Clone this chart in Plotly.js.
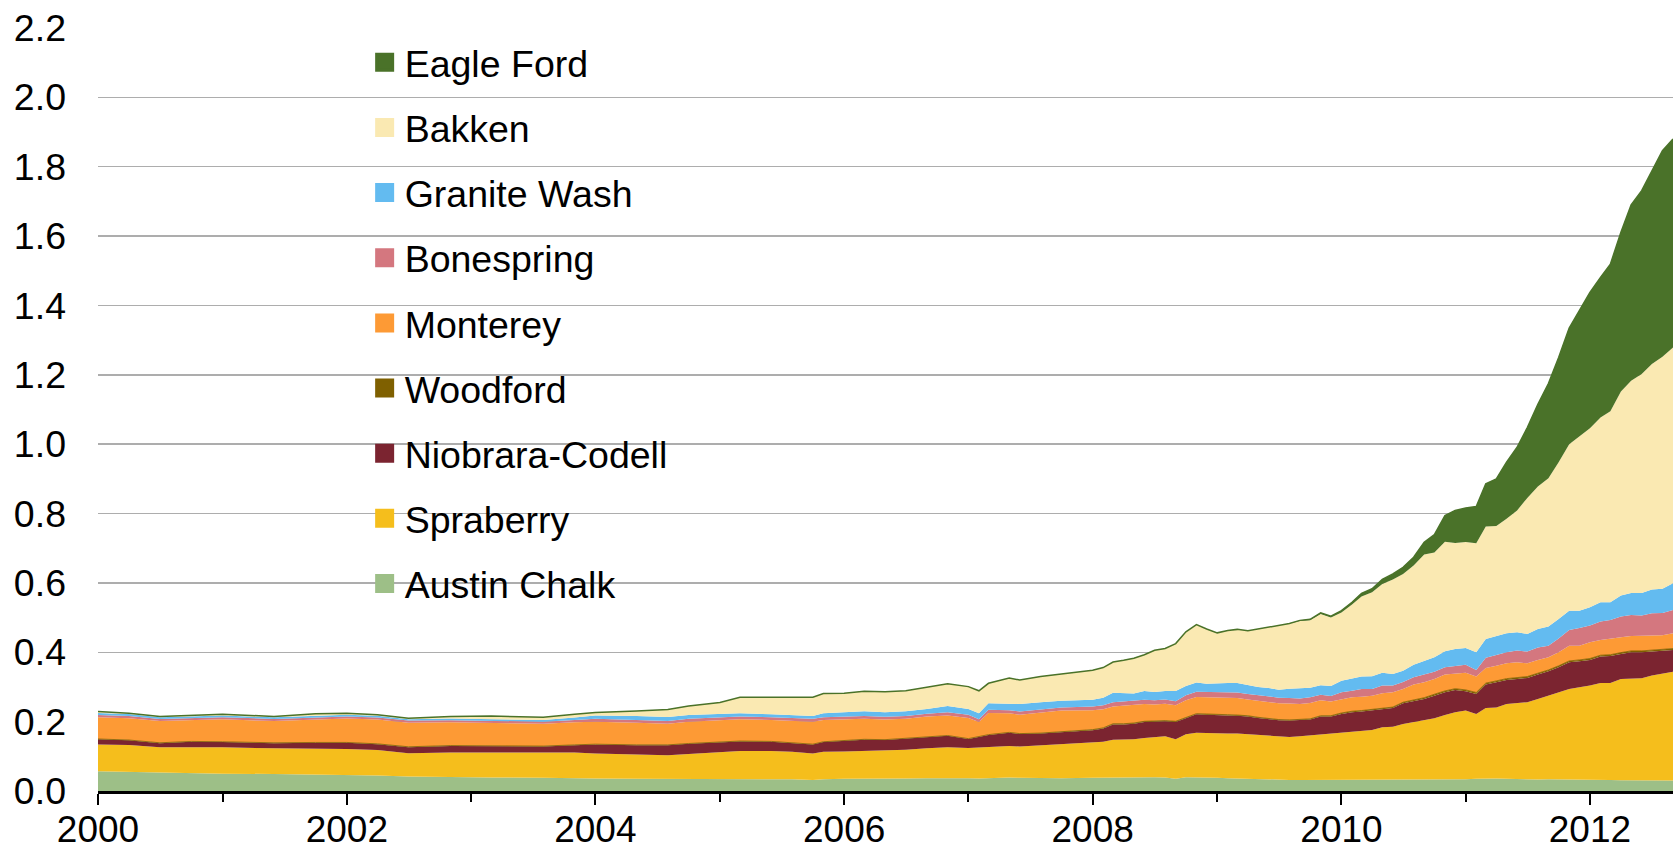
<!DOCTYPE html>
<html><head><meta charset="utf-8">
<script src="https://cdn.plot.ly/plotly-3.0.1.min.js"></script>
<style>html,body{margin:0;padding:0;background:#fff;} #chart{width:1673px;height:851px;}</style>
</head><body><div id="chart"></div>
<script>
// Sample dates (non-uniform: coarser in the flat early years, monthly from 2008)
const dates = [
 '2000-01-01','2000-04-01','2000-07-01','2000-10-01','2001-01-01','2001-06-01','2001-10-01',
 '2002-01-01','2002-04-01','2002-07-01','2002-11-01','2003-03-01','2003-08-01','2003-11-01',
 '2004-01-01','2004-05-01','2004-08-01','2004-10-01','2005-01-01','2005-03-01','2005-06-01',
 '2005-08-01','2005-10-01','2005-11-01',
 '2006-01-01','2006-03-01','2006-05-01','2006-07-01','2006-09-01','2006-11-01','2007-01-01',
 '2007-02-01','2007-03-01','2007-05-01','2007-06-01','2007-08-01','2007-10-01',
 '2008-01-01','2008-02-01','2008-03-01','2008-04-01','2008-05-01','2008-06-01','2008-07-01','2008-08-01','2008-09-01','2008-10-01','2008-11-01','2008-12-01',
 '2009-01-01','2009-02-01','2009-03-01','2009-04-01','2009-05-01','2009-06-01','2009-07-01','2009-08-01','2009-09-01','2009-10-01','2009-11-01','2009-12-01',
 '2010-01-01','2010-02-01','2010-03-01','2010-04-01','2010-05-01','2010-06-01','2010-07-01','2010-08-01','2010-09-01','2010-10-01','2010-11-01','2010-12-01',
 '2011-01-01','2011-02-01','2011-03-01','2011-04-01','2011-05-01','2011-06-01','2011-07-01','2011-08-01','2011-09-01','2011-10-01','2011-11-01','2011-12-01',
 '2012-01-01','2012-02-01','2012-03-01','2012-04-01','2012-05-01','2012-06-01','2012-07-01','2012-08-01','2012-09-01'
];

const austinChalk = [
 .057,.055,.053,.051,.050,.049,.048,.047,.045,.042,.040,.039,.038,.038,
 .036,.035,.035,.035,.035,.035,.035,.034,.032,.034,
 .035,.036,.036,.036,.037,.038,.037,.036,.037,.039,.038,.037,.037,
 .0385,.039,.040,.040,.040,.040,.040,.039,.0355,.040,.040,.039,
 .038,.037,.036,.035,.0345,.034,.033,.032,.032,.032,.032,.032,
 .032,.032,.032,.032,.032,.032,.032,.032,.032,.033,.033,.033,
 .034,.035,.0365,.036,.035,.034,.033,.033,.034,.034,.034,.033,
 .033,.033,.032,.031,.031,.031,.030,.030,.030
];
const spraberry = [
 .077,.0775,.0735,.076,.076,.074,.074,.074,.073,.067,.071,.072,.071,.073,
 .072,.069,.068,.072,.076,.080,.080,.079,.076,.079,
 .079,.080,.080,.083,.086,.088,.087,.090,.091,.091,.090,.094,.097,
 .1015,.103,.108,.108,.109,.113,.116,.119,.1135,.1235,.128,.129,
 .129,.129,.1295,.1285,.126,.124,.123,.124,.126,.1285,.1315,.135,
 .137,.140,.142,.144,.152,.1536,.161,.166,.171,.1766,.186,.194,
 .198,.187,.2025,.205,.216,.219,.223,.232,.241,.2506,.260,.266,
 .271,.2785,.2795,.292,.294,.294,.3027,.309,.314
];
const niobraraCodell = [
 .015,.0135,.0115,.015,.015,.015,.017,.018,.017,.0175,.019,.019,.0195,.021,
 .026,.028,.029,.029,.028,.028,.027,.026,.026,.028,
 .031,.032,.031,.032,.034,.033,.026,.031,.0335,.038,.0365,.035,.036,
 .035,.038,.044,.044,.045,.046,.045,.043,.050,.047,.053,.052,
 .051,.052,.0515,.0515,.050,.049,.048,.047,.046,.0455,.0515,.048,
 .053,.055,.055,.056,.0525,.0534,.060,.0607,.062,.0654,.0656,.064,
 .0555,.058,.068,.0725,.069,.070,.070,.0706,.070,.0724,.077,.075,
 .074,.076,.0775,.072,.075,.075,.0693,.064,.0627
];
const woodford = [
 .001,.001,.001,.001,.001,.001,.001,.001,.001,.001,.001,.001,.001,.001,
 .001,.001,.001,.001,.001,.001,.001,.001,.001,.001,
 .001,.001,.001,.001,.001,.001,.001,.001,.001,.001,.001,.001,.001,
 .002,.002,.002,.002,.002,.002,.002,.002,.002,.002,.002,.002,
 .002,.002,.002,.002,.002,.002,.002,.002,.002,.002,.002,.002,
 .003,.003,.003,.003,.003,.003,.003,.004,.004,.004,.004,.004,
 .004,.004,.004,.004,.004,.004,.004,.004,.004,.004,.004,.004,
 .004,.004,.004,.004,.004,.004,.004,.004,.004
];
const monterey = [
 .063,.063,.0625,.062,.065,.0625,.066,.069,.070,.0695,.067,.065,.0645,.065,
 .065,.064,.061,.063,.064,.063,.062,.062,.065,.063,
 .061,.0595,.058,.0565,.0565,.058,.0595,.041,.0625,.055,.0545,.060,.061,
 .0555,.054,.050,.052,.051,.050,.0465,.0485,.046,.0495,.048,.048,
 .050,.049,.049,.047,.0475,.047,.047,.047,.045,.046,.0445,.041,
 .040,.040,.040,.040,.0425,.043,.038,.0443,.0445,.044,.047,.044,
 .0495,.046,.044,.044,.044,.044,.038,.0384,.0366,.039,.044,.041,
 .047,.0441,.0455,.044,.043,.043,.041,.042,.0443
];
const bonespring = [
 .006,.006,.006,.006,.006,.006,.006,.006,.006,.006,.006,.006,.006,.007,
 .008,.008,.008,.008,.008,.008,.008,.008,.008,.008,
 .008,.008,.008,.008,.008,.009,.009,.008,.009,.009,.009,.009,.009,
 .011,.011,.012,.012,.012,.012,.012,.012,.012,.014,.015,.015,
 .016,.016,.016,.016,.016,.016,.016,.016,.016,.016,.016,.016,
 .0196,.019,.022,.019,.022,.019,.020,.021,.0225,.021,.0214,.0225,
 .023,.019,.029,.0305,.032,.034,.034,.036,.0334,.040,.045,.051,
 .048,.0534,.0545,.060,.0605,.059,.0655,.064,.067
];
const graniteWash = [
 .006,.006,.005,.005,.005,.005,.005,.005,.005,.004,.005,.005,.005,.007,
 .010,.011,.0115,.011,.009,.009,.008,.008,.0085,.011,
 .012,.0135,.013,.0135,.014,.018,.017,.017,.019,.020,.022,.020,.0195,
 .0195,.022,.027,.023,.022,.0255,.024,.025,.0295,.027,.0265,.0245,
 .0255,.0265,.0275,.025,.024,.025,.023,.027,.030,.028,.0275,.029,
 .0334,.036,.036,.037,.037,.0335,.033,.036,.040,.0416,.046,.048,
 .0485,.051,.0545,.056,.055,.053,.051,.053,.055,.056,.056,.050,
 .053,.055,.051,.0605,.0635,.065,.0685,.070,.077
];
const bakken = [
 .004,.002,.0025,.002,.003,.0025,.0055,.0045,.003,.003,.006,.009,.008,.009,
 .008,.015,.0215,.026,.034,.046,.049,.0535,.054,.057,
 .055,.0575,.0595,.059,.0625,.064,.0645,.065,.0575,.073,.069,.074,.077,
 .085,.087,.089,.096,.102,.1045,.1205,.1225,.1365,.156,.1675,.1575,
 .1445,.1515,.1545,.157,.167,.174,.184,.188,.193,.194,.205,.197,
 .197,.2125,.2305,.242,.256,.272,.279,.286,.306,.3024,.316,.3054,
 .3055,.3145,.324,.316,.330,.351,.392,.411,.428,.452,.480,.502,
 .516,.533,.551,.5885,.612,.631,.650,.669,.680
];
const eagleFord = [
 0,0,0,0,0,0,0,0,0,0,0,0,0,0,
 0,0,0,0,0,0,0,0,0,0,
 0,0,0,0,0,0,0,0,0,0,0,0,0,
 0,0,0,0,0,0,0,0,0,0,0,0,
 0,0,0,0,0,0,0,0,.002,.003,.004,.004,
 .005,.0065,.0095,.010,.013,.0164,.019,.024,.035,.051,.075,.094,
 .098,.1055,.1235,.136,.163,.182,.203,.237,.273,.302,.335,.363,
 .3915,.404,.424,.459,.507,.529,.557,.594,.601
];

// Stacking order: bottom to top
const seriesNames = ['Austin Chalk','Spraberry','Niobrara-Codell','Woodford','Monterey','Bonespring','Granite Wash','Bakken','Eagle Ford'];
const seriesData  = [austinChalk, spraberry, niobraraCodell, woodford, monterey, bonespring, graniteWash, bakken, eagleFord];
const seriesColors = ['#9dbf87','#f5be1c','#7b2430','#7f6000','#fd9a35','#d4777f','#63bbf0','#fae9b2','#4a7229'];
const lineWidths   = [0,0,0,0.8,0,0,0,0,1.5];

const traces = [];
seriesNames.forEach((name, i) => {
  traces.push({
    type: 'scatter', mode: 'lines', name: name,
    x: dates, y: seriesData[i],
    stackgroup: 'one',
    fillcolor: seriesColors[i],
    line: {color: seriesColors[i], width: lineWidths[i]},
    showlegend: false, hoverinfo: 'x+y+name'
  });
});
// Legend entries (top to bottom), square keys
const legendOrder = ['Eagle Ford','Bakken','Granite Wash','Bonespring','Monterey','Woodford','Niobrara-Codell','Spraberry','Austin Chalk'];
legendOrder.forEach((name) => {
  const c = seriesColors[seriesNames.indexOf(name)];
  traces.push({
    type: 'scatter', mode: 'markers', name: name,
    x: [null], y: [null], legendgroup: name,
    marker: {symbol: 'square', size: 16, color: c, line: {color: c, width: 3}},
    showlegend: true, hoverinfo: 'skip'
  });
});

const FONT = '"Liberation Sans", Arial, sans-serif';
const FS = 37.5;
const layout = {
  width: 1673, height: 851,
  margin: {l: 98, r: 0, t: 28, b: 60, pad: 0},
  paper_bgcolor: '#ffffff', plot_bgcolor: '#ffffff',
  font: {family: FONT, size: FS, color: '#000000'},
  showlegend: true,
  legend: {
    x: 0.1693, xanchor: 'left', y: 0.9955, yanchor: 'top',
    bgcolor: 'rgba(255,255,255,0)', borderwidth: 0,
    traceorder: 'grouped', tracegroupgap: 13.4,
    font: {family: FONT, size: FS, color: '#000000'}
  },
  xaxis: {
    type: 'date',
    range: ['2000-01-01', '2012-09-01'],
    tick0: '2000-01-01', dtick: 'M24', tickformat: '%Y',
    ticks: 'outside', ticklen: 11, tickwidth: 2, tickcolor: '#000000',
    minor: {dtick: 'M12', tick0: '2000-01-01', ticks: 'outside', ticklen: 8, tickwidth: 2, tickcolor: '#000000', showgrid: false},
    showline: true, linecolor: '#000000', linewidth: 3,
    showgrid: false, zeroline: false,
    ticklabelstandoff: -7,
    tickfont: {family: FONT, size: 37, color: '#000000'},
    fixedrange: true
  },
  yaxis: {
    range: [0, 2.2], dtick: 0.2, tick0: 0, tickformat: '.1f',
    ticks: '', showline: false, zeroline: false,
    showgrid: true, gridcolor: '#adadad', gridwidth: 1.5,
    ticklabelstandoff: 31,
    tickfont: {family: FONT, size: FS, color: '#000000'},
    fixedrange: true
  },
  shapes: [{
    type: 'rect', xref: 'paper', yref: 'y',
    x0: 0.1219, x1: 0.4108, y0: 0.5, y1: 2.1,
    fillcolor: '#ffffff', line: {width: 0}, layer: 'between'
  }]
};

Plotly.newPlot('chart', traces, layout, {displayModeBar: false, staticPlot: true});
</script>
</body></html>
